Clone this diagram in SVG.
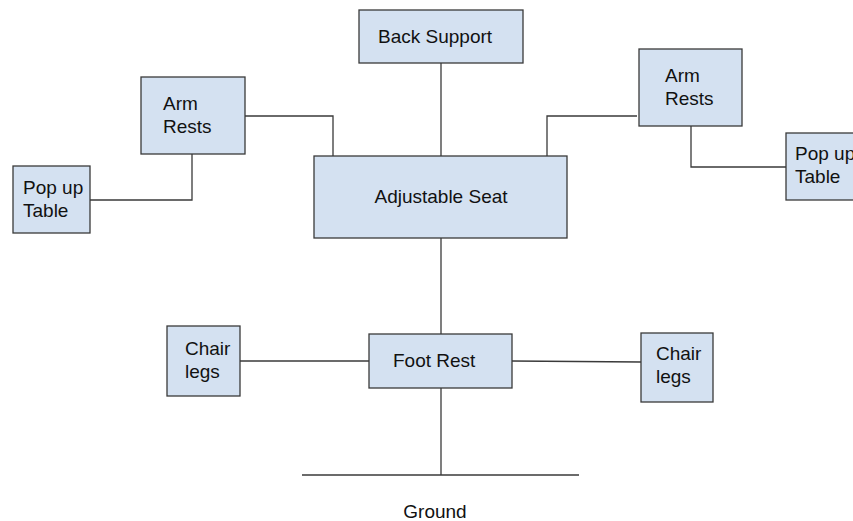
<svg xmlns="http://www.w3.org/2000/svg" width="853" height="521" viewBox="0 0 853 521">
<style>
.box{fill:#d4e1f1;stroke:#3a3a3a;stroke-width:1.3}
.ln{fill:none;stroke:#3a3a3a;stroke-width:1.3}
text{font-family:"Liberation Sans",Arial,sans-serif;font-size:19px;fill:#111}
</style>
<rect width="853" height="521" fill="#fff"/>
<g id="connectors">
<polyline class="ln" points="90,200 192,200 192,154"/>
<polyline class="ln" points="245,116 333,116 333,156"/>
<line class="ln" x1="441" y1="63" x2="441" y2="156"/>
<polyline class="ln" points="547,156 547,116 637,116"/>
<polyline class="ln" points="691,126 691,167 786,167"/>
<line class="ln" x1="441" y1="238" x2="441" y2="334"/>
<line class="ln" x1="441" y1="388" x2="441" y2="475"/>
<line class="ln" x1="302" y1="475" x2="579" y2="475"/>
<line class="ln" x1="240" y1="361" x2="369" y2="361"/>
<line class="ln" x1="512" y1="361" x2="641" y2="362"/>
</g>
<g id="back-support"><rect class="box" x="359" y="10" width="164" height="53"/><text x="378" y="43">Back Support</text></g>
<g id="arm-rests-left"><rect class="box" x="141" y="77" width="104" height="77"/><text x="163" y="110">Arm</text><text x="163" y="133">Rests</text></g>
<g id="popup-left"><rect class="box" x="13" y="166" width="77" height="67"/><text x="23" y="194">Pop up</text><text x="23" y="217">Table</text></g>
<g id="adjustable-seat"><rect class="box" x="314" y="156" width="253" height="82"/><text x="441" y="203" text-anchor="middle">Adjustable Seat</text></g>
<g id="arm-rests-right"><rect class="box" x="639" y="49" width="103" height="77"/><text x="665" y="82">Arm</text><text x="665" y="105">Rests</text></g>
<g id="popup-right"><rect class="box" x="786" y="133" width="80" height="67"/><text x="795" y="160">Pop up</text><text x="795" y="183">Table</text></g>
<g id="foot-rest"><rect class="box" x="369" y="334" width="143" height="54"/><text x="393" y="367">Foot Rest</text></g>
<g id="chair-legs-left"><rect class="box" x="167" y="326" width="73" height="70"/><text x="185" y="355">Chair</text><text x="185" y="378">legs</text></g>
<g id="chair-legs-right"><rect class="box" x="641" y="333" width="72" height="69"/><text x="656" y="360">Chair</text><text x="656" y="383">legs</text></g>
<g id="ground"><text x="435" y="518" text-anchor="middle">Ground</text></g>
</svg>
